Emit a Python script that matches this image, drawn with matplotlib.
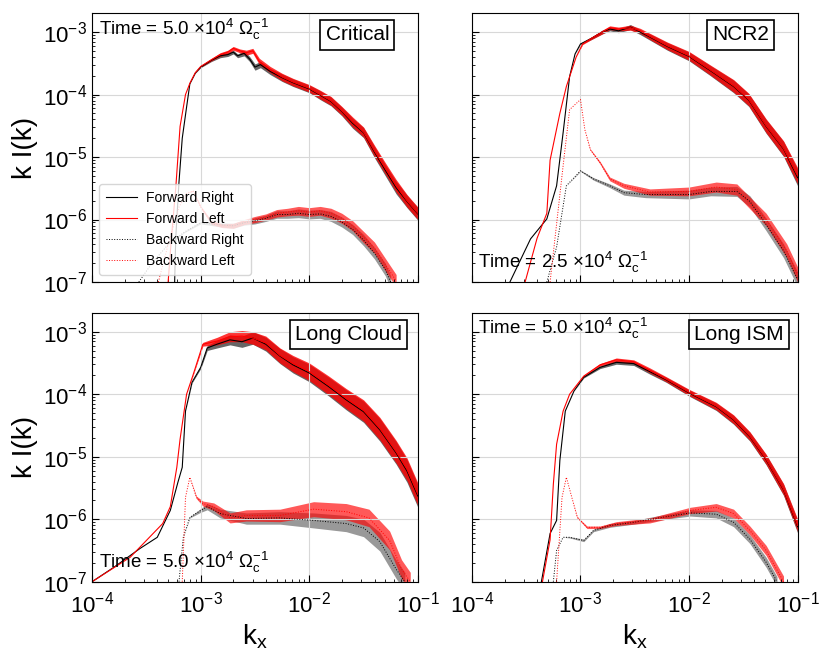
import numpy as np
import matplotlib
matplotlib.use('Agg')
import matplotlib.pyplot as plt

plt.rcParams['font.family'] = ['Liberation Sans', 'DejaVu Sans']
plt.rcParams['mathtext.fontset'] = 'custom'
plt.rcParams['mathtext.rm'] = 'Liberation Sans'
plt.rcParams['mathtext.it'] = 'Liberation Sans:italic'
plt.rcParams['mathtext.bf'] = 'Liberation Sans:bold'

# (log10 kx, log10 kI, half width of the noise band in dex)
critical_fwd_right = [(-3.24, -7.0, 0), (-3.23, -6.3, 0), (-3.20, -5.4, 0), (-3.17, -4.7, 0), (-3.13, -4.2, 0),
                      (-3.10, -3.83, 0), (-3.05, -3.66, 0), (-3.0, -3.56, 0.01), (-2.90, -3.45, 0.02),
                      (-2.82, -3.38, 0.03), (-2.75, -3.36, 0.03), (-2.70, -3.32, 0.03), (-2.66, -3.38, 0.03),
                      (-2.60, -3.34, 0.04), (-2.55, -3.43, 0.04), (-2.50, -3.56, 0.05), (-2.45, -3.52, 0.05),
                      (-2.36, -3.63, 0.05), (-2.25, -3.73, 0.06), (-2.15, -3.81, 0.06), (-2.0, -3.91, 0.06),
                      (-1.90, -4.01, 0.07), (-1.80, -4.11, 0.07), (-1.70, -4.27, 0.07), (-1.60, -4.46, 0.08),
                      (-1.50, -4.61, 0.08), (-1.40, -4.92, 0.09), (-1.30, -5.21, 0.09), (-1.20, -5.49, 0.10),
                      (-1.10, -5.71, 0.10), (-1.0, -5.91, 0.10)]
critical_fwd_left = [(-3.30, -7.0, 0), (-3.27, -6.3, 0), (-3.23, -5.5, 0), (-3.19, -4.51, 0), (-3.14, -4.0, 0),
                     (-3.10, -3.82, 0), (-3.05, -3.65, 0), (-3.0, -3.55, 0.01), (-2.90, -3.44, 0.02),
                     (-2.82, -3.36, 0.03), (-2.75, -3.32, 0.03), (-2.70, -3.26, 0.03), (-2.64, -3.30, 0.03),
                     (-2.58, -3.33, 0.04), (-2.52, -3.30, 0.04), (-2.46, -3.47, 0.05), (-2.36, -3.60, 0.05),
                     (-2.25, -3.72, 0.06), (-2.15, -3.80, 0.06), (-2.0, -3.90, 0.06), (-1.90, -4.00, 0.07),
                     (-1.80, -4.10, 0.07), (-1.70, -4.26, 0.07), (-1.60, -4.44, 0.08), (-1.50, -4.60, 0.08),
                     (-1.40, -4.90, 0.09), (-1.30, -5.18, 0.09), (-1.20, -5.46, 0.10), (-1.10, -5.70, 0.10),
                     (-1.0, -5.90, 0.10)]
critical_bwd_right = [(-3.57, -7.0, 0), (-3.45, -6.7, 0), (-3.30, -6.4, 0), (-3.15, -6.2, 0.01),
                      (-3.0, -6.05, 0.02), (-2.85, -6.08, 0.03), (-2.70, -6.10, 0.04), (-2.60, -6.05, 0.04),
                      (-2.50, -6.02, 0.05), (-2.40, -5.98, 0.05), (-2.30, -5.92, 0.06), (-2.20, -5.92, 0.06),
                      (-2.10, -5.90, 0.07), (-2.0, -5.92, 0.07), (-1.90, -5.91, 0.07), (-1.80, -5.95, 0.08),
                      (-1.70, -6.04, 0.08), (-1.60, -6.16, 0.08), (-1.50, -6.33, 0.09), (-1.40, -6.54, 0.09),
                      (-1.30, -6.80, 0.10), (-1.25, -7.0, 0.10)]
critical_bwd_left = [(-3.39, -7.0, 0), (-3.30, -6.4, 0), (-3.20, -5.8, 0), (-3.13, -5.58, 0),
                     (-3.07, -5.54, 0.01), (-3.0, -5.80, 0.02), (-2.90, -6.05, 0.03), (-2.80, -6.10, 0.03),
                     (-2.70, -6.10, 0.04), (-2.60, -6.04, 0.04), (-2.50, -6.0, 0.05), (-2.40, -5.96, 0.05),
                     (-2.30, -5.90, 0.06), (-2.20, -5.88, 0.06), (-2.10, -5.86, 0.07), (-2.0, -5.88, 0.07),
                     (-1.90, -5.86, 0.07), (-1.80, -5.90, 0.08), (-1.70, -5.98, 0.08), (-1.60, -6.10, 0.08),
                     (-1.50, -6.28, 0.09), (-1.40, -6.45, 0.09), (-1.30, -6.72, 0.10), (-1.20, -6.98, 0.10)]

ncr2_fwd_right = [(-3.65, -7.0, 0), (-3.46, -6.31, 0), (-3.31, -5.99, 0), (-3.22, -5.46, 0), (-3.16, -4.61, 0),
                  (-3.10, -3.71, 0), (-3.05, -3.35, 0), (-3.0, -3.19, 0.01), (-2.90, -3.10, 0.02),
                  (-2.80, -3.0, 0.03), (-2.73, -2.95, 0.03), (-2.65, -2.98, 0.03), (-2.54, -2.92, 0.04),
                  (-2.45, -3.0, 0.04), (-2.36, -3.08, 0.05), (-2.20, -3.23, 0.06), (-2.0, -3.39, 0.07),
                  (-1.81, -3.61, 0.08), (-1.70, -3.74, 0.09), (-1.59, -3.87, 0.10), (-1.45, -4.09, 0.10),
                  (-1.29, -4.51, 0.11), (-1.13, -4.87, 0.12), (-1.0, -5.33, 0.13)]
ncr2_fwd_left = [(-3.51, -7.0, 0), (-3.40, -6.3, 0), (-3.31, -5.9, 0), (-3.28, -5.05, 0), (-3.19, -4.30, 0),
                 (-3.13, -3.87, 0), (-3.04, -3.40, 0), (-2.98, -3.19, 0.01), (-2.90, -3.10, 0.02),
                 (-2.80, -3.0, 0.03), (-2.73, -2.93, 0.03), (-2.65, -2.95, 0.03), (-2.54, -2.93, 0.04),
                 (-2.45, -2.98, 0.04), (-2.36, -3.07, 0.05), (-2.20, -3.22, 0.06), (-2.0, -3.38, 0.07),
                 (-1.81, -3.60, 0.08), (-1.70, -3.73, 0.09), (-1.59, -3.86, 0.10), (-1.45, -4.08, 0.10),
                 (-1.29, -4.50, 0.11), (-1.13, -4.86, 0.12), (-1.0, -5.30, 0.13)]
ncr2_bwd_right = [(-3.31, -7.0, 0), (-3.22, -6.44, 0), (-3.13, -5.46, 0), (-3.0, -5.22, 0.01),
                  (-2.88, -5.35, 0.02), (-2.73, -5.46, 0.03), (-2.60, -5.57, 0.04), (-2.40, -5.60, 0.05),
                  (-2.20, -5.60, 0.06), (-2.0, -5.60, 0.07), (-1.80, -5.55, 0.07), (-1.56, -5.55, 0.08),
                  (-1.44, -5.71, 0.09), (-1.29, -6.08, 0.10), (-1.13, -6.50, 0.11), (-1.0, -6.96, 0.12)]
ncr2_bwd_left = [(-3.28, -7.0, 0), (-3.16, -5.14, 0), (-3.10, -4.24, 0), (-3.0, -4.08, 0), (-2.96, -4.56, 0),
                 (-2.91, -4.88, 0.01), (-2.82, -5.09, 0.02), (-2.73, -5.35, 0.03), (-2.60, -5.46, 0.04),
                 (-2.36, -5.56, 0.05), (-2.0, -5.55, 0.07), (-1.75, -5.48, 0.08), (-1.56, -5.52, 0.09),
                 (-1.29, -6.00, 0.10), (-1.10, -6.50, 0.11), (-1.0, -6.88, 0.12)]

cloud_fwd_right = [(-4.0, -7.0, 0), (-3.80, -6.77, 0), (-3.56, -6.47, 0), (-3.40, -6.29, 0), (-3.28, -5.86, 0),
                   (-3.21, -5.41, 0), (-3.17, -5.17, 0), (-3.14, -4.27, 0), (-3.08, -3.81, 0.01),
                   (-3.0, -3.57, 0.02), (-2.94, -3.26, 0.04), (-2.85, -3.20, 0.06), (-2.73, -3.13, 0.08),
                   (-2.62, -3.16, 0.09), (-2.52, -3.10, 0.10), (-2.40, -3.20, 0.11), (-2.27, -3.39, 0.12),
                   (-2.15, -3.53, 0.13), (-2.0, -3.66, 0.14), (-1.82, -3.88, 0.15), (-1.66, -4.09, 0.16),
                   (-1.50, -4.28, 0.17), (-1.35, -4.57, 0.18), (-1.20, -4.94, 0.18), (-1.10, -5.23, 0.18),
                   (-1.0, -5.63, 0.18)]
cloud_fwd_left = [(-4.0, -7.0, 0), (-3.65, -6.61, 0), (-3.50, -6.34, 0), (-3.35, -6.07, 0), (-3.28, -5.80, 0),
                  (-3.22, -5.17, 0), (-3.19, -4.72, 0), (-3.13, -4.0, 0), (-3.07, -3.69, 0.01),
                  (-2.98, -3.20, 0.03), (-2.85, -3.15, 0.06), (-2.73, -3.08, 0.08), (-2.62, -3.07, 0.09),
                  (-2.52, -3.10, 0.10), (-2.40, -3.18, 0.11), (-2.27, -3.38, 0.12), (-2.15, -3.51, 0.13),
                  (-2.0, -3.64, 0.14), (-1.82, -3.86, 0.15), (-1.66, -4.07, 0.16), (-1.50, -4.26, 0.17),
                  (-1.35, -4.55, 0.18), (-1.20, -4.92, 0.18), (-1.10, -5.20, 0.18), (-1.0, -5.60, 0.18)]
cloud_bwd_right = [(-3.20, -7.0, 0), (-3.16, -6.29, 0), (-3.10, -5.97, 0.01), (-3.0, -5.86, 0.03),
                   (-2.94, -5.80, 0.05), (-2.82, -5.91, 0.07), (-2.58, -5.99, 0.09), (-2.27, -5.98, 0.10),
                   (-1.96, -6.02, 0.12), (-1.66, -6.07, 0.13), (-1.50, -6.14, 0.14), (-1.35, -6.36, 0.15),
                   (-1.20, -6.80, 0.15), (-1.12, -7.0, 0.15)]
cloud_bwd_left = [(-3.17, -7.0, 0), (-3.14, -5.65, 0), (-3.10, -5.33, 0), (-3.04, -5.65, 0.02),
                  (-2.98, -5.75, 0.04), (-2.88, -5.80, 0.06), (-2.73, -5.98, 0.08), (-2.58, -5.94, 0.09),
                  (-2.27, -5.94, 0.10), (-1.96, -5.84, 0.12), (-1.66, -5.88, 0.13), (-1.45, -5.98, 0.14),
                  (-1.26, -6.34, 0.15), (-1.15, -6.80, 0.15), (-1.07, -7.0, 0.15)]

ism_fwd_right = [(-3.36, -7.0, 0), (-3.28, -6.23, 0), (-3.22, -6.02, 0), (-3.19, -5.06, 0), (-3.14, -4.27, 0),
                 (-3.06, -3.95, 0), (-2.97, -3.73, 0.01), (-2.82, -3.57, 0.02), (-2.67, -3.49, 0.03),
                 (-2.51, -3.51, 0.03), (-2.36, -3.64, 0.04), (-2.21, -3.77, 0.04), (-1.99, -3.99, 0.05),
                 (-1.75, -4.20, 0.06), (-1.59, -4.41, 0.07), (-1.44, -4.68, 0.07), (-1.29, -5.05, 0.08),
                 (-1.13, -5.53, 0.09), (-1.0, -6.12, 0.10)]
ism_fwd_left = [(-3.35, -7.0, 0), (-3.28, -6.33, 0), (-3.25, -5.44, 0), (-3.22, -4.80, 0), (-3.16, -4.27, 0),
                (-3.10, -4.0, 0), (-2.97, -3.71, 0.01), (-2.82, -3.53, 0.02), (-2.67, -3.45, 0.03),
                (-2.51, -3.48, 0.03), (-2.36, -3.62, 0.04), (-2.21, -3.76, 0.04), (-1.99, -3.98, 0.05),
                (-1.75, -4.19, 0.06), (-1.59, -4.40, 0.07), (-1.44, -4.67, 0.07), (-1.29, -5.04, 0.08),
                (-1.13, -5.52, 0.09), (-1.0, -6.10, 0.10)]
ism_bwd_right = [(-3.25, -7.0, 0), (-3.22, -6.50, 0), (-3.16, -6.29, 0), (-3.10, -6.29, 0.01),
                 (-2.97, -6.34, 0.02), (-2.88, -6.18, 0.02), (-2.73, -6.10, 0.03), (-2.51, -6.05, 0.03),
                 (-2.21, -5.96, 0.04), (-1.99, -5.90, 0.05), (-1.75, -5.92, 0.06), (-1.59, -6.05, 0.07),
                 (-1.44, -6.32, 0.07), (-1.29, -6.69, 0.08), (-1.19, -7.0, 0.08)]
ism_bwd_left = [(-3.22, -7.0, 0), (-3.17, -5.65, 0), (-3.13, -5.33, 0), (-3.08, -5.65, 0), (-3.03, -5.97, 0.01),
                (-2.94, -6.13, 0.02), (-2.82, -6.13, 0.02), (-2.67, -6.07, 0.03), (-2.36, -6.02, 0.04),
                (-1.99, -5.86, 0.05), (-1.75, -5.81, 0.06), (-1.59, -5.91, 0.07), (-1.44, -6.18, 0.07),
                (-1.29, -6.50, 0.08), (-1.13, -7.0, 0.09)]

panel_names = ['Critical', 'NCR2', 'Long Cloud', 'Long ISM']
panel_times = ['5.0', '2.5', '5.0', '5.0']
panel_curves = [
    (critical_fwd_right, critical_fwd_left, critical_bwd_right, critical_bwd_left),
    (ncr2_fwd_right, ncr2_fwd_left, ncr2_bwd_right, ncr2_bwd_left),
    (cloud_fwd_right, cloud_fwd_left, cloud_bwd_right, cloud_bwd_left),
    (ism_fwd_right, ism_fwd_left, ism_bwd_right, ism_bwd_left),
]
curve_labels = ['Forward Right', 'Forward Left', 'Backward Right', 'Backward Left']
curve_styles = [dict(color='black', ls='-', lw=0.8),
                dict(color='red', ls='-', lw=0.8),
                dict(color='black', ls=':', lw=0.7),
                dict(color='red', ls=':', lw=0.7)]
band_alpha = [0.6, 0.8, 0.4, 0.65]

# where the time stamp and the name box go in each panel
time_pos = [(0.02, 0.988, 'top'), (0.02, 0.025, 'bottom'), (0.02, 0.025, 'bottom'), (0.02, 0.988, 'top')]
name_right = [0.912, 0.912, 0.952, 0.958]

fig, axes = plt.subplots(2, 2, figsize=(8.3, 6.64), dpi=100, sharex=True, sharey=True)
fig.subplots_adjust(left=0.111, right=0.961, top=0.980, bottom=0.124, wspace=0.166, hspace=0.115)

for i, ax in enumerate(axes.flat):
    for pts, lab, st, a in zip(panel_curves[i], curve_labels, curve_styles, band_alpha):
        pts = np.array(pts)
        k = 10 ** pts[:, 0]
        ax.plot(k, 10 ** pts[:, 1], label=lab, **st)
        # noisy spectra show up as a band at high k
        ax.fill_between(k, 10 ** (pts[:, 1] - pts[:, 2]), 10 ** (pts[:, 1] + pts[:, 2]),
                        color=st['color'], alpha=a, lw=0)
    ax.set_xscale('log')
    ax.set_yscale('log')
    ax.set_xlim(1e-4, 1e-1)
    ax.set_ylim(1e-7, 2e-3)
    ax.grid(True, which='major', color='#d8d8d8', lw=0.8)
    ax.tick_params(which='both', direction='in', labelsize=16)
    ax.tick_params(axis='x', which='major', pad=7)
    ax.tick_params(which='major', length=5)
    ax.tick_params(which='minor', length=2.5)

    tx, ty, va = time_pos[i]
    ax.text(tx, ty, r'Time = %s $\times 10^{4}$ $\Omega_{\mathrm{c}}^{-1}$' % panel_times[i],
            transform=ax.transAxes, ha='left', va=va, fontsize=13.5)
    ax.text(name_right[i], 0.955, panel_names[i], transform=ax.transAxes, ha='right', va='top',
            fontsize=15, bbox=dict(boxstyle='square,pad=0.25', fc='white', ec='black', lw=1.2))

axes[0, 0].legend(loc='lower left', fontsize=10, handlelength=2.2, handletextpad=0.7,
                  framealpha=0.8, borderpad=0.5)

for ax in axes[:, 0]:
    ax.set_ylabel('k I(k)', fontsize=20)
for ax in axes[1, :]:
    ax.set_xlabel(r'k$_{\mathrm{x}}$', fontsize=20)

fig.savefig('out.png', dpi=100)
